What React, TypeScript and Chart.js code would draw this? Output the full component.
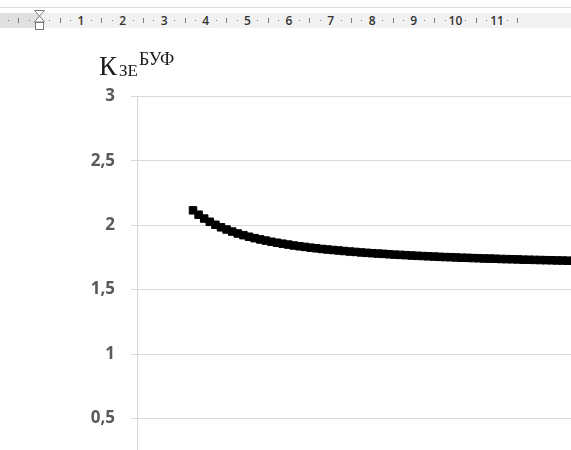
import { useEffect, useRef } from "react";
import { Chart, registerables } from "chart.js";

Chart.register(...registerables);

// Parameter values along the (hidden) horizontal axis
const xValues = [
  10, 11, 12, 13, 14, 15, 16, 17, 18, 19, 20, 21, 22, 23, 24, 25, 26, 27, 28, 29,
  30, 31, 32, 33, 34, 35, 36, 37, 38, 39, 40, 41, 42, 43, 44, 45, 46, 47, 48, 49,
  50, 51, 52, 53, 54, 55, 56, 57, 58, 59, 60, 61, 62, 63, 64, 65, 66, 67, 68, 69,
  70, 71, 72, 73, 74, 75, 76, 77, 78,
];

// К_ЗЕ^БУФ values
const kValues = [
  2.116, 2.082, 2.052, 2.027, 2.004, 1.984, 1.967, 1.951, 1.936, 1.923,
  1.911, 1.9, 1.89, 1.881, 1.872, 1.864, 1.857, 1.85, 1.843, 1.837,
  1.832, 1.826, 1.821, 1.816, 1.812, 1.808, 1.804, 1.8, 1.796, 1.793,
  1.789, 1.786, 1.783, 1.78, 1.778, 1.775, 1.772, 1.77, 1.768, 1.765,
  1.763, 1.761, 1.759, 1.757, 1.755, 1.753, 1.752, 1.75, 1.748, 1.747,
  1.745, 1.744, 1.742, 1.741, 1.74, 1.738, 1.737, 1.736, 1.735, 1.733,
  1.732, 1.731, 1.73, 1.729, 1.728, 1.727, 1.726, 1.725, 1.724,
];

const yTicks = [0, 0.5, 1, 1.5, 2, 2.5, 3];
const rulerNumbers = ["1", "2", "3", "4", "5", "6", "7", "8", "9", "10", "11"];

const titleMain = "К";
const titleSub = "ЗЕ";
const titleSup = "БУФ";

const CM = 41.6;
const RULER_ZERO = 39.4;

export default function App() {
  const ref = useRef<HTMLCanvasElement>(null);

  useEffect(() => {
    const chart = new Chart(ref.current as HTMLCanvasElement, {
      type: "scatter",
      data: {
        datasets: [
          {
            data: xValues.map((x, i) => ({ x, y: kValues[i] })),
            showLine: true,
            borderColor: "#000000",
            backgroundColor: "#000000",
            borderWidth: 3,
            pointStyle: "rect",
            pointRadius: 5.3,
            pointBorderWidth: 1,
            pointHoverRadius: 5.3,
          },
        ],
      },
      options: {
        animation: false,
        responsive: true,
        maintainAspectRatio: false,
        events: [],
        layout: { autoPadding: false, padding: { top: 96.5, bottom: 20, left: 0, right: 0 } },
        plugins: {
          legend: { display: false },
          tooltip: { enabled: false },
        },
        scales: {
          x: { type: "linear", min: 0, max: 77.5, display: false },
          y: {
            type: "linear",
            min: 0,
            max: 3,
            afterBuildTicks: (s: any) => {
              s.ticks = yTicks.map((v) => ({ value: v }));
            },
            afterFit: (s: any) => {
              s.width = 137;
            },
            ticks: {
              padding: 16,
              color: "#595959",
              font: { family: "'Open Sans', 'Noto Sans', sans-serif", size: 17, weight: "bold" },
              callback: (v: any) => String(v).replace(".", ","),
            },
            grid: {
              color: "#d9d9d9",
              lineWidth: 1,
              drawTicks: true,
              tickLength: 6,
              tickColor: "#d9d9d9",
            },
            border: { display: true, color: "#d4d4d4", width: 1 },
          },
        },
      },
    });
    return () => chart.destroy();
  }, []);

  const marks: { x: number; kind: "dot" | "tick" }[] = [];
  for (let n = -1; n < 12; n++) {
    const base = RULER_ZERO + CM * n;
    const d1 = base + CM / 4;
    const t = base + CM / 2;
    const d2 = base + (3 * CM) / 4;
    if (d1 > 4 && d1 < 528) marks.push({ x: d1, kind: "dot" });
    if (t > 4 && t < 528) marks.push({ x: t, kind: "tick" });
    if (d2 > 4 && d2 < 528) marks.push({ x: d2, kind: "dot" });
  }

  const serif = "'Liberation Serif', 'DejaVu Serif', serif";

  return (
    <div
      style={{
        position: "fixed",
        left: 0,
        top: 0,
        width: 571,
        height: 450,
        overflow: "hidden",
        background: "#ffffff",
      }}
    >
      {/* Word ruler */}
      <div style={{ position: "absolute", left: 0, top: 7, width: 571, height: 1, background: "#dedede" }} />
      <div style={{ position: "absolute", left: 0, top: 13, width: 571, height: 15, background: "#f1f1f1" }} />
      <div style={{ position: "absolute", left: 0, top: 13, width: 38, height: 15, background: "#e0e0e0" }} />
      {marks.map((m, i) =>
        m.kind === "dot" ? (
          <div
            key={i}
            style={{ position: "absolute", left: m.x - 0.5, top: 20, width: 1, height: 1, background: "#7a7a7a" }}
          />
        ) : (
          <div
            key={i}
            style={{ position: "absolute", left: m.x - 0.5, top: 18, width: 1, height: 5, background: "#7a7a7a" }}
          />
        )
      )}
      {rulerNumbers.map((t, i) => (
        <div
          key={t}
          style={{
            position: "absolute",
            left: RULER_ZERO + CM * (i + 1) - 15,
            width: 30,
            top: 13,
            height: 15,
            lineHeight: "15px",
            textAlign: "center",
            fontFamily: "'Open Sans', 'Noto Sans', sans-serif",
            fontSize: 12,
            fontWeight: 600,
            color: "#333333",
          }}
        >
          {t}
        </div>
      ))}
      <svg style={{ position: "absolute", left: 33, top: 8 }} width={13} height={24}>
        <path d="M1.5 2.5 L11.5 2.5 L6.5 8 Z" fill="#ffffff" stroke="#7a7a7a" strokeWidth={1} />
        <path d="M6.5 8 L11.5 14 L1.5 14 Z" fill="#ffffff" stroke="#7a7a7a" strokeWidth={1} />
        <rect x={2.5} y={14.5} width={8} height={7} fill="#ffffff" stroke="#7a7a7a" strokeWidth={1} />
      </svg>

      {/* Chart */}
      <div style={{ position: "absolute", left: 0, top: 0, width: 571, height: 509 }}>
        <canvas ref={ref} />
      </div>

      {/* Axis title */}
      <div
        style={{
          position: "absolute",
          left: 99,
          top: 75 - 0.3375 * 27,
          lineHeight: 0,
          fontFamily: serif,
          fontSize: 27,
          color: "#1a1a1a",
          whiteSpace: "nowrap",
        }}
      >
        {titleMain}
      </div>
      <div
        style={{
          position: "absolute",
          left: 119,
          top: 77 - 0.3375 * 17,
          lineHeight: 0,
          fontFamily: serif,
          fontSize: 17,
          color: "#1a1a1a",
          whiteSpace: "nowrap",
        }}
      >
        {titleSub}
      </div>
      <div
        style={{
          position: "absolute",
          left: 139,
          top: 65 - 0.3375 * 18,
          lineHeight: 0,
          fontFamily: serif,
          fontSize: 18,
          color: "#1a1a1a",
          whiteSpace: "nowrap",
        }}
      >
        {titleSup}
      </div>
    </div>
  );
}
